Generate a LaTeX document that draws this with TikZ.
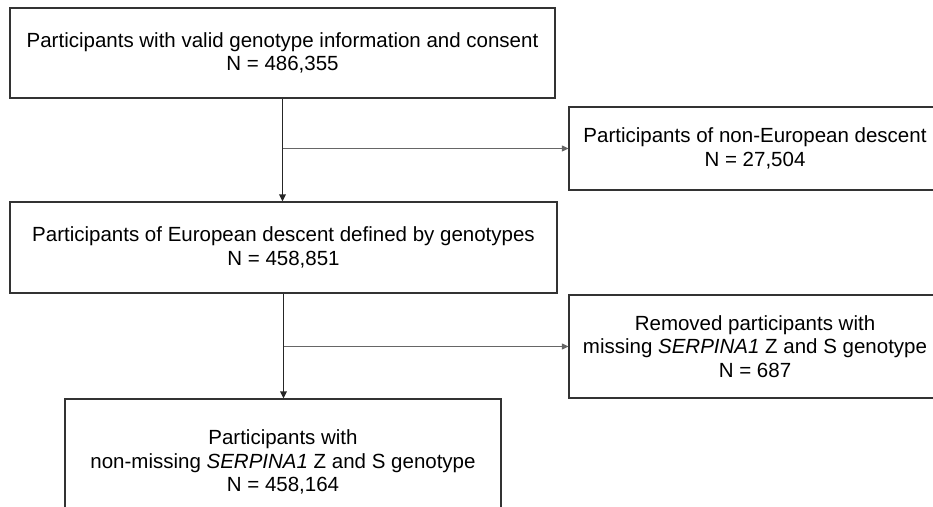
\documentclass[tikz,border=0pt]{standalone}
\usepackage{fontspec}
\setmainfont{Liberation Sans}
\usetikzlibrary{arrows.meta}

\begin{document}
\begin{tikzpicture}[x=1pt,y=1pt,
  stage/.style={draw=black!80,line width=1.2pt,rectangle,align=center,inner sep=0pt,
    font=\fontsize{20.5}{23.5}\selectfont,text=black},
  flow/.style={draw=black!85,line width=1.7pt,-{Triangle[length=7pt,width=6.5pt]}},
  branch/.style={draw=black!60,line width=1.1pt,-{Triangle[length=6.5pt,width=6pt]}}]
\path[use as bounding box] (0,0) rectangle (933,506);
\clip (0,0) rectangle (933,506);
% boxes of the main flow
\node[stage,minimum width=545pt,minimum height=90pt] (consent) at (282.5,453)
  {Participants with valid genotype information and consent\\N = 486,355};
\node[stage,minimum width=547pt,minimum height=91pt] (euro) at (283.5,258.5)
  {Participants of European descent defined by genotypes\\N = 458,851};
\node[stage,minimum width=436pt,minimum height=126pt] (final) at (283,44)
  {Participants with\\non-missing \textit{SERPINA1} Z and S genotype\\N = 458,164};
% exclusions
\node[stage,minimum width=372pt,minimum height=83pt] (noneuro) at (755,357.5)
  {Participants of non-European descent\\N = 27,504};
\node[stage,minimum width=372pt,minimum height=103pt] (missing) at (755,159.5)
  {Removed participants with\\missing \textit{SERPINA1} Z and S genotype\\N = 687};
\coordinate (split1) at (consent.south |- noneuro.west);
\coordinate (split2) at (euro.south |- missing.west);
\draw[flow] (consent.south) -- (consent.south |- euro.north);
\draw[flow] (euro.south) -- (euro.south |- final.north);
\draw[branch] (split1) -- (noneuro.west);
\draw[branch] (split2) -- (missing.west);
\end{tikzpicture}
\end{document}
